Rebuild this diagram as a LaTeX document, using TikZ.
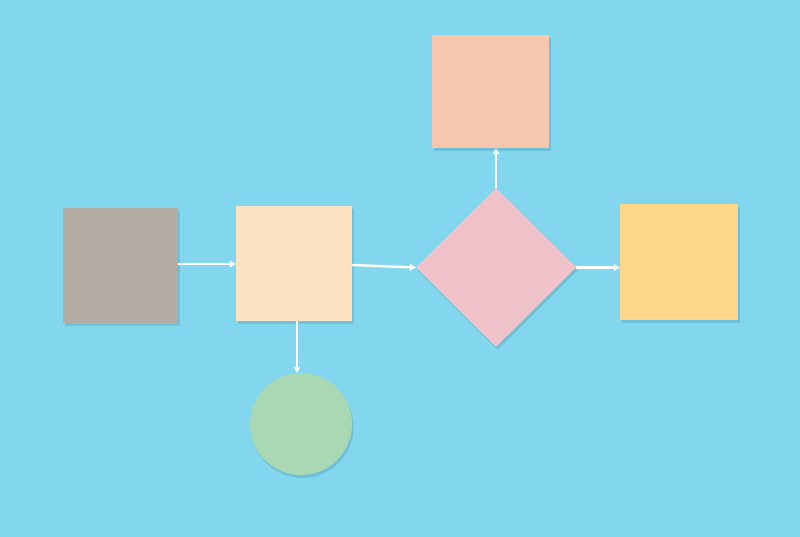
\documentclass[tikz,border=0pt]{standalone}
\usetikzlibrary{shapes.geometric,arrows.meta,shadows}
\definecolor{bgblue}{HTML}{82D7EF}
\definecolor{shgray}{HTML}{B3ACA4}
\definecolor{shpeach}{HTML}{FDE3C2}
\definecolor{shgreen}{HTML}{A9D8B4}
\definecolor{shpink}{HTML}{F0C3CB}
\definecolor{shsalmon}{HTML}{F6C7AE}
\definecolor{shyellow}{HTML}{FDD68A}
\definecolor{shadowblue}{HTML}{3E8FA8}
\tikzset{
  card/.style={draw=none, inner sep=0pt, drop shadow={shadow xshift=1.5pt, shadow yshift=-3pt, opacity=0.3, fill=shadowblue}},
  sq/.style={card, rectangle},
  arr/.style={draw=white, line width=2.4pt, -{Triangle[length=6pt,width=6.5pt]}}
}
\begin{document}
\begin{tikzpicture}[x=1pt,y=-1pt]
\fill[bgblue] (0,0) rectangle (800,537);
\useasboundingbox (0,0) rectangle (800,537);
\node[sq, fill=shgray, minimum width=115pt, minimum height=115pt] (gray) at (120.5,265.5) {};
\node[sq, fill=shpeach, minimum width=116pt, minimum height=115pt] (peach) at (294,263.5) {};
\node[card, circle, fill=shgreen, minimum size=102pt] (circ) at (301,424) {};
\node[card, diamond, fill=shpink, minimum width=160pt, minimum height=159pt, aspect=1] (dia) at (496,267.5) {};
\node[sq, fill=shsalmon, minimum width=117pt, minimum height=113pt] (sal) at (490.5,91.5) {};
\node[sq, fill=shyellow, minimum width=118pt, minimum height=116pt] (yel) at (679,262) {};
\draw[arr] ([yshift=1.5pt]gray.east) -- ([yshift=1.5pt]gray.east -| peach.west);
\draw[arr] ([yshift=-1.5pt]peach.east) -- (dia.west);
\draw[arr] ([xshift=3pt]peach.south) -- ([xshift=3pt]peach.south |- circ.north);
\draw[arr] (dia.north) -- (dia.north |- sal.south);
\draw[arr] (dia.east) -- (dia.east -| yel.west);
\end{tikzpicture}
\end{document}
